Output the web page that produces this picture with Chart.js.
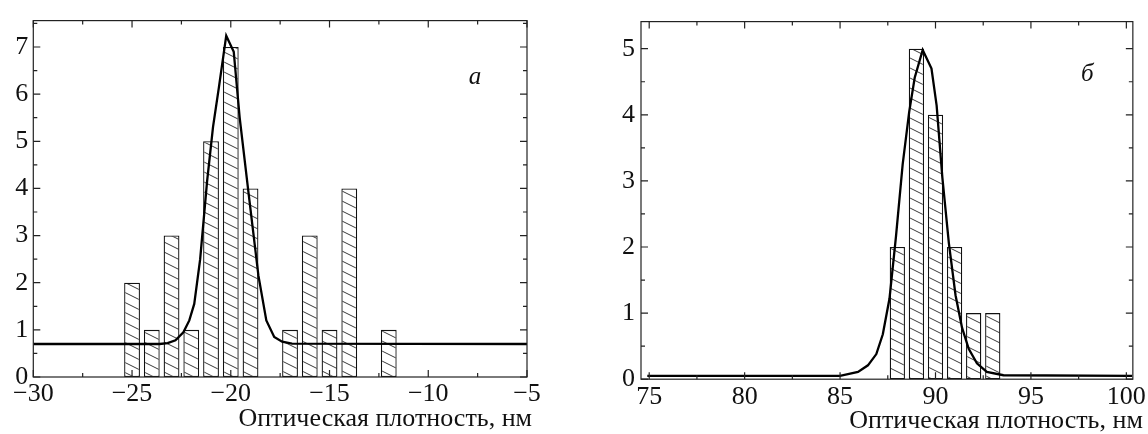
<!DOCTYPE html>
<html>
<head>
<meta charset="utf-8">
<script src="https://cdn.jsdelivr.net/npm/chart.js@4.4.0/dist/chart.umd.min.js"></script>
<style>
  html, body { margin: 0; padding: 0; background: #fff; }
  #wrap { position: relative; width: 1148px; height: 434px; }
  canvas { position: absolute; top: 0; }
  #chartA { left: 0; }
  #chartB { left: 574px; }
</style>
</head>
<body>
<div id="wrap">
  <canvas id="chartA" width="574" height="434"></canvas>
  <canvas id="chartB" width="574" height="434"></canvas>
</div>
<script>
// panel a: histogram + fitted curve
const binsA = [-25, -24, -23, -22, -21, -20, -19, -17, -16, -15, -14, -12]
const countsA = [2, 1, 3, 1, 5, 7, 4, 1, 3, 1, 4, 1]
const curveAx = [-30, -23.6, -23.2, -22.8, -22.4, -22.1, -21.85, -21.55, -21.2, -20.9, -20.6, -20.23,
                 -19.85, -19.55, -19.1, -18.6, -18.2, -17.8, -17.4, -16.9, -5]
const curveAy = [0.70, 0.70, 0.72, 0.78, 0.95, 1.2, 1.55, 2.5, 4.15, 5.3, 6.15, 7.24,
                 6.9, 5.5, 3.9, 2.15, 1.2, 0.85, 0.75, 0.71, 0.70]
const xTicksA = [-30, -25, -20, -15, -10, -5]
const xMinorA = [-27.5, -22.5, -17.5, -12.5, -7.5]
const yTicksA = [0, 1, 2, 3, 4, 5, 6, 7]
const yMinorA = [0.5, 1.5, 2.5, 3.5, 4.5, 5.5, 6.5, 7.5]

// panel b
const binsB = [88, 89, 90, 91, 92, 93]
const countsB = [2, 5, 4, 2, 1, 1]
const curveBx = [74.9, 85.0, 85.94, 86.46, 86.9, 87.24, 87.59, 87.93, 88.28, 88.62, 88.91, 89.33,
                 89.79, 90.06, 90.36, 90.7, 91.05, 91.39, 91.74, 92.17, 92.69, 93.56, 100.3]
const curveBy = [0.05, 0.05, 0.11, 0.21, 0.38, 0.68, 1.22, 2.16, 3.25, 4.04, 4.56, 4.98,
                 4.70, 4.14, 3.05, 2.06, 1.27, 0.78, 0.46, 0.24, 0.11, 0.06, 0.05]
const xTicksB = [75, 80, 85, 90, 95, 100]
const xMinorB = [77.5, 82.5, 87.5, 92.5, 97.5]
const yTicksB = [0, 1, 2, 3, 4, 5]
const yMinorB = [0.5, 1.5, 2.5, 3.5, 4.5]

const xTitle = 'Оптическая плотность, нм'
const serif = '"Liberation Serif", "DejaVu Serif", serif'

function hatch() {
    const c = document.createElement('canvas')
    c.width = 20
    c.height = 10
    const g = c.getContext('2d')
    g.fillStyle = '#fff'
    g.fillRect(0, 0, 20, 10)
    g.strokeStyle = '#222'
    g.lineWidth = 0.9
    g.beginPath()
    for (let k = -1; k <= 1; k++) {
        g.moveTo(0, k * 10)
        g.lineTo(20, k * 10 + 10)
    }
    g.stroke()
    return g.createPattern(c, 'repeat')
}

function fmt(v) {
    return v < 0 ? '\u2212' + Math.abs(v) : String(v)
}

// box round the plot with inward ticks on all four sides, plus the texts
const framePlugin = {
    id: 'frame',
    afterDatasetsDraw(chart, args, o) {
        const { ctx, chartArea: a, scales: { x, y } } = chart
        ctx.save()
        ctx.strokeStyle = '#222'
        ctx.lineWidth = 1.2
        ctx.strokeRect(a.left, a.top, a.right - a.left, a.bottom - a.top)
        ctx.beginPath()
        const vert = (vals, len) => vals.forEach(v => {
            const px = x.getPixelForValue(v)
            ctx.moveTo(px, a.bottom); ctx.lineTo(px, a.bottom - len)
            ctx.moveTo(px, a.top); ctx.lineTo(px, a.top + len)
        })
        const horiz = (vals, len) => vals.forEach(v => {
            const py = y.getPixelForValue(v)
            ctx.moveTo(a.left, py); ctx.lineTo(a.left + len, py)
            ctx.moveTo(a.right, py); ctx.lineTo(a.right - len, py)
        })
        vert(o.xMajor, 7)
        vert(o.xMinor, 4)
        horiz(o.yMajor, 7)
        horiz(o.yMinor, 4)
        ctx.stroke()

        ctx.fillStyle = '#111'
        ctx.font = '26px ' + serif
        ctx.textAlign = 'right'
        ctx.textBaseline = 'middle'
        ctx.fillText(xTitle, a.right + o.titleShift, a.bottom + 42)
        ctx.font = 'italic 25px ' + serif
        ctx.textAlign = 'center'
        ctx.fillText(o.tag, a.right - o.tagDx, a.top + o.tagDy)
        ctx.restore()
    }
}

function makeChart(id, cfg) {
    const node = document.getElementById(id)
    return new Chart(node, {
        type: 'bar',
        data: {
            datasets: [
                {
                    type: 'line',
                    data: cfg.cx.map((v, i) => ({ x: v, y: cfg.cy[i] })),
                    borderColor: '#000',
                    borderWidth: 2.3,
                    pointRadius: 0,
                    tension: 0,
                    fill: false,
                    order: 0
                },
                {
                    type: 'bar',
                    data: cfg.bins.map((v, i) => ({ x: v, y: cfg.counts[i] })),
                    backgroundColor: hatch(),
                    borderColor: '#111',
                    borderWidth: 1.3,
                    borderSkipped: false,
                    barPercentage: 0.8,
                    categoryPercentage: 1.0,
                    order: 1
                }
            ]
        },
        options: {
            responsive: false,
            devicePixelRatio: 1,
            animation: false,
            layout: { padding: cfg.padding },
            plugins: {
                legend: { display: false },
                tooltip: { enabled: false },
                frame: cfg.frame
            },
            scales: {
                x: {
                    type: 'linear',
                    min: cfg.xMin,
                    max: cfg.xMax,
                    offset: false,
                    grid: { display: false, drawTicks: false },
                    border: { display: false },
                    afterBuildTicks: s => { s.ticks = cfg.xTicks.map(v => ({ value: v })) },
                    afterFit: s => { s.height = cfg.xHeight },
                    ticks: {
                        autoSkip: false,
                        maxRotation: 0,
                        padding: 2,
                        color: '#111',
                        font: { family: serif, size: 26 },
                        callback: v => fmt(v)
                    }
                },
                y: {
                    min: 0,
                    max: cfg.yMax,
                    grid: { display: false, drawTicks: false },
                    border: { display: false },
                    afterBuildTicks: s => { s.ticks = cfg.yTicks.map(v => ({ value: v })) },
                    afterFit: s => { s.width = cfg.yWidth },
                    ticks: {
                        padding: cfg.yPad,
                        color: '#111',
                        font: { family: serif, size: 26 },
                        callback: v => fmt(v)
                    }
                }
            }
        },
        plugins: [framePlugin]
    })
}

makeChart('chartA', {
    bins: binsA, counts: countsA, cx: curveAx, cy: curveAy,
    xMin: -30, xMax: -5, yMax: 7.56,
    xTicks: xTicksA, yTicks: yTicksA,
    xHeight: 57, yWidth: 33.3, yPad: 5,
    padding: { top: 12.3, right: 47, left: 0, bottom: 0 },
    frame: { xMajor: xTicksA, xMinor: xMinorA, yMajor: yTicksA, yMinor: yMinorA,
             tag: 'а', tagDx: 52, tagDy: 57, titleShift: 5 }
})

makeChart('chartB', {
    bins: binsB, counts: countsB, cx: curveBx, cy: curveBy,
    xMin: 74.57, xMax: 100.34, yMax: 5.41,
    xTicks: xTicksB, yTicks: yTicksB,
    xHeight: 54.8, yWidth: 67, yPad: 6,
    padding: { top: 14.3, right: 10.7, left: 0, bottom: 0 },
    frame: { xMajor: xTicksB, xMinor: xMinorB, yMajor: yTicksB, yMinor: yMinorB,
             tag: 'б', tagDx: 45.6, tagDy: 52.4, titleShift: 10 }
})
</script>
</body>
</html>
